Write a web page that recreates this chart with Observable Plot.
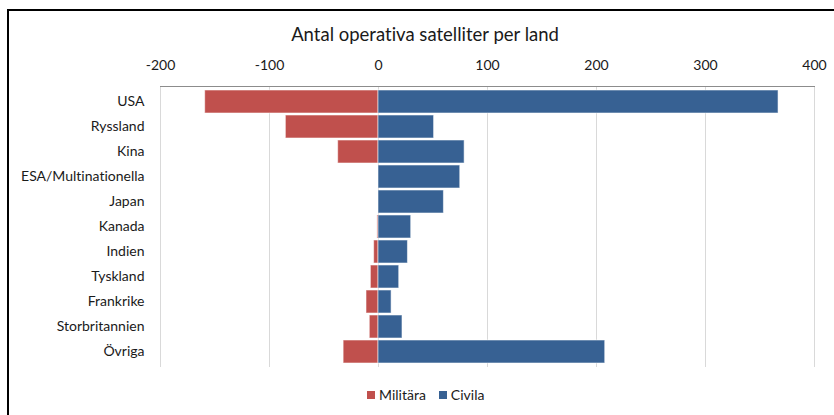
<!DOCTYPE html>
<html>
<head>
<meta charset="utf-8">
<script src="https://cdn.jsdelivr.net/npm/d3@7"></script>
<script src="https://cdn.jsdelivr.net/npm/@observablehq/plot@0.6"></script>
<style>
  body { margin: 0; background: #fff; font-family: Lato, "Open Sans", sans-serif;
         font-variant-ligatures: none; font-feature-settings: "liga" 0, "clig" 0; }
  #wrap { position: relative; width: 834px; height: 415px; overflow: hidden; background: #fff; }
  #frame { position: absolute; left: 7px; top: 9px; width: 900px; height: 500px;
           border-left: 2px solid #000; border-top: 2px solid #000; }
  #title { position: absolute; top: 23px; left: 8px; width: 834px; text-align: center;
           font-size: 18.5px; color: #1a1a1a; }
  #chart { position: absolute; left: 0; top: 0; }
  #chart svg text { font-variant-ligatures: none; font-feature-settings: "liga" 0, "clig" 0; }
  #legend { position: absolute; top: 386px; left: 367px; font-size: 14px; color: #1a1a1a;
            display: flex; align-items: center; white-space: nowrap; }
  #legend .sw { display: inline-block; width: 8px; height: 8px; margin-right: 4px; }
  #legend .item { display: inline-flex; align-items: center; margin-right: 13px; }
</style>
</head>
<body>
<div id="wrap">
  <div id="frame"></div>
  <div id="title">Antal operativa satelliter per land</div>
  <div id="chart"></div>
  <div id="legend"></div>
</div>
<script>
// Operational satellites per country, split into military and civil
const countries = ["USA", "Ryssland", "Kina", "ESA/Multinationella", "Japan", "Kanada",
                   "Indien", "Tyskland", "Frankrike", "Storbritannien", "Övriga"];
const military = [159, 85, 37, 0, 0, 1, 4, 7, 11, 8, 32];
const civil = [367, 51, 79, 75, 60, 30, 27, 19, 12, 22, 208];
const xTicks = [-200, -100, 0, 100, 200, 300, 400];
const seriesNames = ["Militära", "Civila"];
const seriesColors = ["#C0504D", "#376193"];

// military counts extend to the left of zero, civil counts to the right
const rows = countries.flatMap((c, i) => [
  {country: c, series: seriesNames[0], x1: 0, x2: -military[i]},
  {country: c, series: seriesNames[1], x1: 0, x2: civil[i]}
]);

const chart = Plot.plot({
  width: 834,
  height: 380,
  marginLeft: 160,
  marginRight: 20,
  marginTop: 86,
  marginBottom: 13,
  style: {fontFamily: "Lato, 'Open Sans', sans-serif", fontSize: "14px", color: "#1a1a1a", background: "transparent"},
  x: {domain: [-200, 400], ticks: xTicks, tickFormat: d => String(d), axis: "top",
      tickSize: 0, tickPadding: 17, label: null},
  y: {domain: countries, padding: 0.08, tickSize: 0, tickPadding: 16, label: null},
  color: {domain: seriesNames, range: seriesColors},
  marks: [
    Plot.ruleX(xTicks, {stroke: "#d9d9d9", strokeWidth: 1}),
    Plot.barX(rows, {y: "country", x1: "x1", x2: "x2", fill: "series",
                     stroke: "#ffffff", strokeOpacity: 0.55, strokeWidth: 1}),
    Plot.frame({anchor: "top", stroke: "#8c8c8c", strokeWidth: 1})
  ]
});
document.getElementById("chart").appendChild(chart);

// legend beneath the chart
const legend = document.getElementById("legend");
seriesNames.forEach((name, i) => {
  const item = document.createElement("span");
  item.className = "item";
  const sw = document.createElement("span");
  sw.className = "sw";
  sw.style.background = seriesColors[i];
  item.appendChild(sw);
  item.appendChild(document.createTextNode(name));
  legend.appendChild(item);
});
</script>
</body>
</html>
